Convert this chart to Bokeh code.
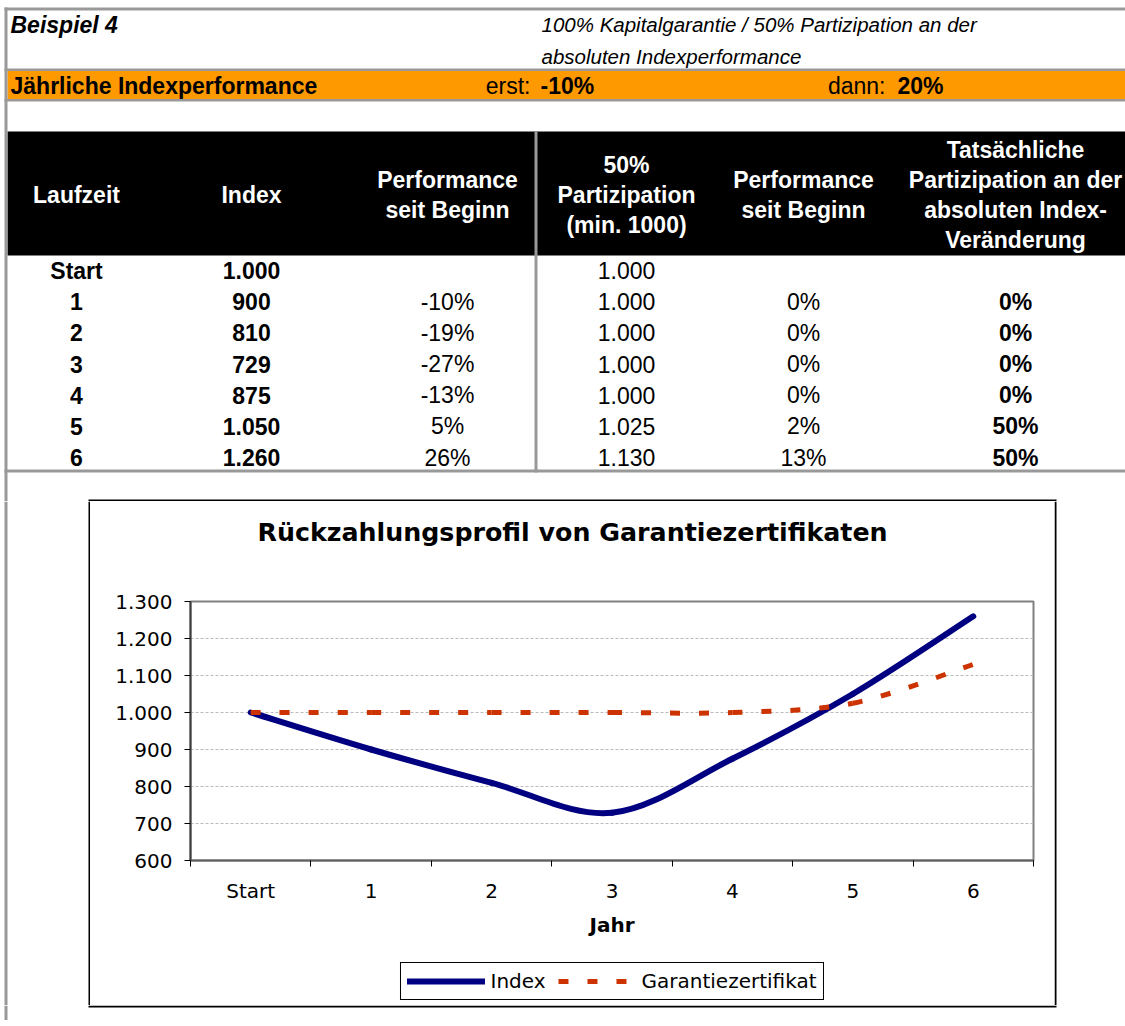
from bokeh.plotting import figure
from bokeh.models import ColumnDataSource, Range1d, FixedTicker, Legend, LegendItem
from bokeh.layouts import column, row
from bokeh.core.properties import value
from bokeh.embed import file_html
from bokeh.resources import INLINE

# ---------------- data ----------------
beispiel_titel = "Beispiel 4"
beschreibung = ["100% Kapitalgarantie / 50% Partizipation an der",
                "absoluten Indexperformance"]
perf_label = "Jährliche Indexperformance"
perf_erst_label = "erst:"
perf_erst = -10
perf_dann_label = "dann:"
perf_dann = 20

spalten_titel = [["Laufzeit"],
                 ["Index"],
                 ["Performance", "seit Beginn"],
                 ["50%", "Partizipation", "(min. 1000)"],
                 ["Performance", "seit Beginn"],
                 ["Tatsächliche", "Partizipation an der", "absoluten Index-", "Veränderung"]]

laufzeit = ["Start", "1", "2", "3", "4", "5", "6"]
index_werte = [1000, 900, 810, 729, 875, 1050, 1260]
index_perf = [None, -10, -19, -27, -13, 5, 26]
garantie_werte = [1000, 1000, 1000, 1000, 1000, 1025, 1130]
garantie_perf = [None, 0, 0, 0, 0, 2, 13]
tats_partizipation = [None, 0, 0, 0, 0, 50, 50]

chart_titel = "Rückzahlungsprofil von Garantiezertifikaten"
x_achse_titel = "Jahr"
y_ticks = [600, 700, 800, 900, 1000, 1100, 1200, 1300]
serien_namen = ["Index", "Garantiezertifikat"]

# ---------------- helpers ----------------
def de_num(v):
    return f"{v:,}".replace(",", ".")

def pct(v):
    return "" if v is None else f"{v}%"

FONT = value("Liberation Sans")
CFONT = "DejaVu Sans"
GRAY = "#999999"
NAVY = "#000080"
ORANGE = "#CC3300"

def blank_fig(w, h, xr, yr, bg="white"):
    f = figure(width=w, height=h, x_range=Range1d(*xr), y_range=Range1d(*yr),
               output_backend="svg", toolbar_location=None, min_border=0,
               x_axis_location=None, y_axis_location=None, title=None)
    f.grid.visible = False
    f.outline_line_color = None
    f.background_fill_color = bg
    f.border_fill_color = bg
    return f

def txt(fig, xs, ys, texts, size, style="normal", align="left", color="black", font=FONT):
    src = ColumnDataSource(dict(x=xs, y=ys, t=texts))
    fig.text(x="x", y="y", text="t", source=src, text_font=font,
             text_font_size=size, text_font_style=style, text_align=align,
             text_baseline="middle", text_color=color)

# page geometry (pixels)
W = 1125
BOX_L, BOX_R, BOX_T, BOX_B = 88, 1054, 499, 1005     # outer chart box, 2px lines
IN_L, IN_R, IN_T = BOX_L + 2, BOX_R, BOX_T + 2
FR_L, FR_R, FR_T, FR_B = 190, 1033, 601, 860          # plot area
PAGE_B = 1020

# ---------------- table figure ----------------
TOP_H = IN_T
top = blank_fig(W, TOP_H, (0, W), (TOP_H, 0))

top.quad(left=[7], right=[W], top=[70.5], bottom=[98.5], fill_color="#FF9900", line_color=None)
top.quad(left=[7], right=[W], top=[131], bottom=[255], fill_color="black", line_color=None)
top.quad(left=[4, 4, 4, 4, 4, 534],
         right=[W, W, W, W, 7, 537],
         top=[7, 68, 98.5, 469, 7, 131],
         bottom=[10, 70.5, 101, 472, TOP_H, 472],
         fill_color=GRAY, line_color=None)
top.quad(left=[BOX_L], right=[BOX_R + 2], top=[BOX_T], bottom=[IN_T],
         fill_color="black", line_color=None)

txt(top, [10], [24], [beispiel_titel], "23px", "bold italic")
txt(top, [541, 541], [24, 56], beschreibung, "20.5px", "italic")
txt(top, [10], [85], [perf_label], "23px", "bold")
txt(top, [530, 885], [85, 85], [perf_erst_label, perf_dann_label], "23px", "normal", "right")
txt(top, [540, 897], [85, 85], [pct(perf_erst), pct(perf_dann)], "23px", "bold")

col_x = [76, 251, 447, 626, 803, 1015]
hx, hy, ht = [], [], []
for cx, lines in zip(col_x, spalten_titel):
    n = len(lines)
    for j, line in enumerate(lines):
        hx.append(cx)
        hy.append(194 + (j - (n - 1) / 2) * 30)
        ht.append(line)
txt(top, hx, hy, ht, "23px", "bold", "center", "white")

row_y = [270 + 31.17 * i for i in range(len(laufzeit))]
spalten = [
    ([str(v) for v in laufzeit], "bold"),
    ([de_num(v) for v in index_werte], "bold"),
    ([pct(v) for v in index_perf], "normal"),
    ([de_num(v) for v in garantie_werte], "normal"),
    ([pct(v) for v in garantie_perf], "normal"),
    ([pct(v) for v in tats_partizipation], "bold"),
]
for cx, (vals, style) in zip(col_x, spalten):
    txt(top, [cx] * len(vals), row_y, vals, "23px", style, "center")

# ---------------- side strips of the chart box ----------------
left = blank_fig(IN_L, BOX_B - IN_T, (0, IN_L), (BOX_B, IN_T))
left.quad(left=[4, BOX_L], right=[7, IN_L], top=[IN_T, IN_T], bottom=[BOX_B, BOX_B],
          fill_color=[GRAY, "black"], line_color=None)

right = blank_fig(10, BOX_B - IN_T, (BOX_R, BOX_R + 10), (BOX_B, IN_T))
right.quad(left=[BOX_R], right=[BOX_R + 2], top=[IN_T], bottom=[BOX_B],
           fill_color="black", line_color=None)

bottom = blank_fig(W, PAGE_B - BOX_B, (0, W), (PAGE_B, BOX_B))
bottom.quad(left=[4, BOX_L], right=[7, BOX_R + 2], top=[BOX_B, BOX_B], bottom=[PAGE_B, BOX_B + 2],
            fill_color=[GRAY, "black"], line_color=None)

# ---------------- chart ----------------
CW = IN_R - IN_L
TITLE_B = 581                   # chart canvas starts here
LEG_T = 957
ML, MR = FR_L - IN_L, IN_R - FR_R

titlefig = blank_fig(CW, TITLE_B - IN_T, (FR_L, FR_R), (TITLE_B, IN_T))
txt(titlefig, [(BOX_L + BOX_R + 2) / 2], [532], [chart_titel], "25.3px", "bold", "center",
    font=value(CFONT))

chart = figure(width=CW, height=LEG_T - TITLE_B, x_range=Range1d(-0.5, len(laufzeit) - 0.5),
               y_range=Range1d(y_ticks[0], y_ticks[-1]), output_backend="svg",
               toolbar_location=None, title=None, min_border_left=ML, min_border_right=MR,
               min_border_top=FR_T - TITLE_B, min_border_bottom=LEG_T - FR_B)
chart.background_fill_color = "white"
chart.border_fill_color = "white"
chart.outline_line_color = "#808080"
chart.outline_line_width = 2

xs = list(range(len(laufzeit)))

def bezier_segments(xv, yv):
    n = len(xv)
    d = dict(x0=[], y0=[], x1=[], y1=[], cx0=[], cy0=[], cx1=[], cy1=[])
    for i in range(n - 1):
        a = i - 1 if i > 0 else i
        b = i + 2 if i + 2 < n else i + 1
        d["x0"].append(xv[i]); d["y0"].append(yv[i])
        d["x1"].append(xv[i + 1]); d["y1"].append(yv[i + 1])
        d["cx0"].append(xv[i] + (xv[i + 1] - xv[a]) / 6)
        d["cy0"].append(yv[i] + (yv[i + 1] - yv[a]) / 6)
        d["cx1"].append(xv[i + 1] - (xv[b] - xv[i]) / 6)
        d["cy1"].append(yv[i + 1] - (yv[b] - yv[i]) / 6)
    return ColumnDataSource(d)

INDEX_STYLE = dict(line_color=NAVY, line_width=6, line_cap="round")
GAR_STYLE = dict(line_color=ORANGE, line_width=5, line_dash="10 19", line_cap="butt")

chart.bezier(x0="x0", y0="y0", x1="x1", y1="y1", cx0="cx0", cy0="cy0",
             cx1="cx1", cy1="cy1", source=bezier_segments(xs, index_werte), **INDEX_STYLE)
chart.bezier(x0="x0", y0="y0", x1="x1", y1="y1", cx0="cx0", cy0="cy0",
             cx1="cx1", cy1="cy1", source=bezier_segments(xs, garantie_werte), **GAR_STYLE)

xa = chart.xaxis[0]
xa.ticker = FixedTicker(ticks=xs, minor_ticks=[i - 0.5 for i in range(len(laufzeit) + 1)])
xa.major_label_overrides = {i: lab for i, lab in enumerate(laufzeit)}
xa.major_tick_line_color = None
xa.minor_tick_line_color = "black"
xa.minor_tick_out = 6
xa.minor_tick_in = 0
xa.axis_line_color = "#606060"
xa.axis_line_width = 2
xa.major_label_text_font = CFONT
xa.major_label_text_font_size = "20px"
xa.major_label_text_color = "black"
xa.major_label_standoff = 12
xa.axis_label = x_achse_titel
xa.axis_label_text_font = CFONT
xa.axis_label_text_font_size = "20px"
xa.axis_label_text_font_style = "bold"
xa.axis_label_text_color = "black"
xa.axis_label_standoff = 7

ya = chart.yaxis[0]
ya.ticker = FixedTicker(ticks=y_ticks, minor_ticks=[])
ya.major_label_overrides = {v: de_num(v) for v in y_ticks}
ya.major_tick_line_color = "black"
ya.major_tick_out = 6
ya.major_tick_in = 0
ya.axis_line_color = "#404040"
ya.axis_line_width = 2
ya.major_label_text_font = CFONT
ya.major_label_text_font_size = "20px"
ya.major_label_text_color = "black"
ya.major_label_standoff = 12

chart.xgrid.visible = False
chart.ygrid.grid_line_color = "#BBBBBB"
chart.ygrid.grid_line_dash = "3 2"

# ---------------- legend strip below the chart ----------------
legfig = blank_fig(CW, BOX_B - LEG_T, (FR_L, FR_R), (BOX_B, LEG_T))
# hidden proxies of the two series (only their legend samples are shown)
l_index = legfig.line(x=xs, y=index_werte, visible=False, **INDEX_STYLE)
l_gar = legfig.line(x=xs, y=garantie_werte, visible=False, **GAR_STYLE)
legend = Legend(items=[LegendItem(label=serien_namen[0], renderers=[l_index]),
                       LegendItem(label=serien_namen[1], renderers=[l_gar])],
                orientation="horizontal", location="center")
legend.border_line_color = "black"
legend.border_line_alpha = 1
legend.border_line_width = 1
legend.background_fill_color = "white"
legend.background_fill_alpha = 1
legend.inactive_fill_alpha = 0
legend.label_text_font = CFONT
legend.label_text_font_size = "20px"
legend.label_text_color = "black"
legend.glyph_width = 78
legend.glyph_height = 20
legend.label_standoff = 6
legend.spacing = 12
legend.padding = 6
legend.margin = 0
legfig.add_layout(legend)

box = column(titlefig, chart, legfig)
layout = column(top, row(left, box, right), bottom)
open("out.html", "w").write(file_html(layout, INLINE))
